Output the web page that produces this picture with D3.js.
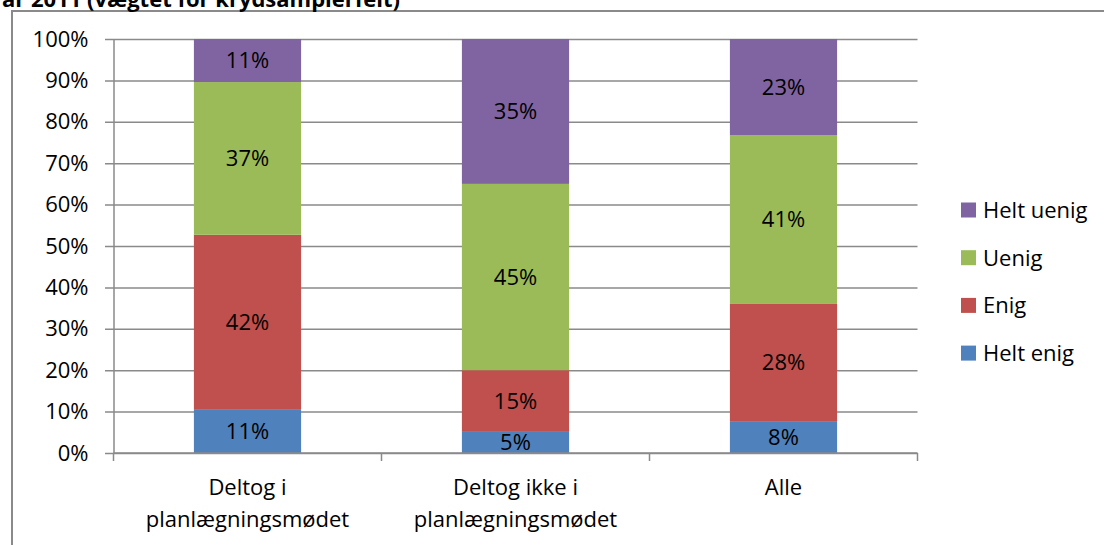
<!DOCTYPE html>
<html>
<head>
<meta charset="utf-8">
<script src="https://cdn.jsdelivr.net/npm/d3@7"></script>
<style>
  body { margin: 0; background: #fff; }
  text { font-family: "Open Sans", sans-serif; fill: #000; }
</style>
</head>
<body>
<script>
'use strict';

// categories and series (shares in %)
const categories = ["Deltog i planlægningsmødet", "Deltog ikke i planlægningsmødet", "Alle"];
const seriesNames = ["Helt enig", "Enig", "Uenig", "Helt uenig"];
const heltEnig  = [10.6, 5.1, 7.7];
const enig      = [42.1, 14.9, 28.3];
const uenig     = [36.9, 45.0, 40.8];
const heltUenig = [10.4, 35.0, 23.2];
const segLabels = [["11%", "5%", "8%"], ["42%", "15%", "28%"], ["37%", "45%", "41%"], ["11%", "35%", "23%"]];
const yTicks = [0, 10, 20, 30, 40, 50, 60, 70, 80, 90, 100];
const colors = ["#4F81BD", "#C0504D", "#9BBB59", "#8064A2"];
const title = "år 2011 (vægtet for krydsamplerfelt)";

const width = 1104, height = 545;
const svg = d3.select('body').append('svg')
  .attr('width', width)
  .attr('height', height);

// chart frame (clipped at top/right in the original)
svg.append('path')
  .attr('d', 'M12,545 V11 H1104')
  .attr('fill', 'none')
  .attr('stroke', '#8a8a8a')
  .attr('stroke-width', 2);

// title, only the lower part shows
svg.append('text')
  .attr('x', 2)
  .attr('y', 7)
  .style('font-size', '22px')
  .style('font-weight', 'bold')
  .text(title);

// build table for stack
const table = categories.map((c, i) => ({
  cat: c,
  "Helt enig": heltEnig[i],
  "Enig": enig[i],
  "Uenig": uenig[i],
  "Helt uenig": heltUenig[i]
}));
const stacked = d3.stack().keys(seriesNames)(table);

const x = d3.scaleBand()
  .domain(categories)
  .range([113.5, 917.5])
  .paddingInner(0.6)
  .paddingOuter(0.3);

const y = d3.scaleLinear()
  .domain([0, 100])
  .range([453, 39]);

// gridlines
svg.append('g')
  .attr('transform', 'translate(105, 0)')
  .call(d3.axisLeft(y).tickValues(yTicks).tickSize(-(917.5 - 105)).tickFormat(''))
  .call(g => g.select('.domain').remove())
  .call(g => g.selectAll('line').attr('stroke', '#8a8a8a').attr('stroke-width', 1.5));

// y axis line and labels
svg.append('g')
  .attr('transform', 'translate(113.5, 0)')
  .call(d3.axisLeft(y).tickValues(yTicks).tickSize(0).tickPadding(25).tickFormat(d => d + '%'))
  .call(g => g.select('.domain').attr('stroke', '#8a8a8a').attr('stroke-width', 1.5))
  .call(g => g.selectAll('text').style('font-size', '22px').style('font-family', '"Open Sans", sans-serif').attr('fill', '#000'));

// bars
const layers = svg.selectAll('.layer')
  .data(stacked)
  .enter()
  .append('g')
    .attr('fill', (d, i) => colors[i]);

layers.selectAll('rect')
  .data(d => d)
  .enter()
  .append('rect')
    .attr('x', d => x(d.data.cat))
    .attr('y', d => y(d[1]))
    .attr('width', x.bandwidth())
    .attr('height', d => y(d[0]) - y(d[1]));

// segment labels
stacked.forEach((layer, li) => {
  svg.append('g').selectAll('text')
    .data(layer)
    .enter()
    .append('text')
      .attr('x', d => x(d.data.cat) + x.bandwidth() / 2)
      .attr('y', d => y((d[0] + d[1]) / 2))
      .attr('dy', '0.36em')
      .attr('text-anchor', 'middle')
      .style('font-size', '22px')
      .text((d, i) => segLabels[li][i]);
});

// x axis baseline and category boundary ticks
const step = x.step();
const bounds = categories.map(c => x(c) - step * 0.3).concat([x(categories[2]) + x.bandwidth() + step * 0.3]);
svg.append('line')
  .attr('x1', 113.5).attr('x2', 917.5)
  .attr('y1', y(0)).attr('y2', y(0))
  .attr('stroke', '#8a8a8a').attr('stroke-width', 1.5);
svg.append('g').selectAll('line')
  .data(bounds)
  .enter()
  .append('line')
    .attr('x1', d => d).attr('x2', d => d)
    .attr('y1', y(0)).attr('y2', y(0) + 8)
    .attr('stroke', '#8a8a8a').attr('stroke-width', 1.5);

// category labels (wrapped before last word)
categories.forEach(c => {
  const words = c.split(' ');
  const lines = words.length > 1 ? [words.slice(0, -1).join(' '), words[words.length - 1]] : [c];
  const t = svg.append('text')
    .attr('text-anchor', 'middle')
    .style('font-size', '22px');
  lines.forEach((ln, i) => {
    t.append('tspan')
      .attr('x', x(c) + x.bandwidth() / 2)
      .attr('y', 495 + i * 32)
      .text(ln);
  });
});

// legend
const legend = svg.append('g').selectAll('g')
  .data(seriesNames.slice().reverse())
  .enter()
  .append('g')
    .attr('transform', (d, i) => 'translate(961,' + (210 + i * 47.7) + ')');
legend.append('rect')
  .attr('x', 0).attr('y', -7.5)
  .attr('width', 15).attr('height', 15)
  .attr('fill', d => colors[seriesNames.indexOf(d)]);
legend.append('text')
  .attr('x', 22)
  .attr('dy', '0.36em')
  .style('font-size', '22px')
  .text(d => d);
</script>
</body>
</html>
